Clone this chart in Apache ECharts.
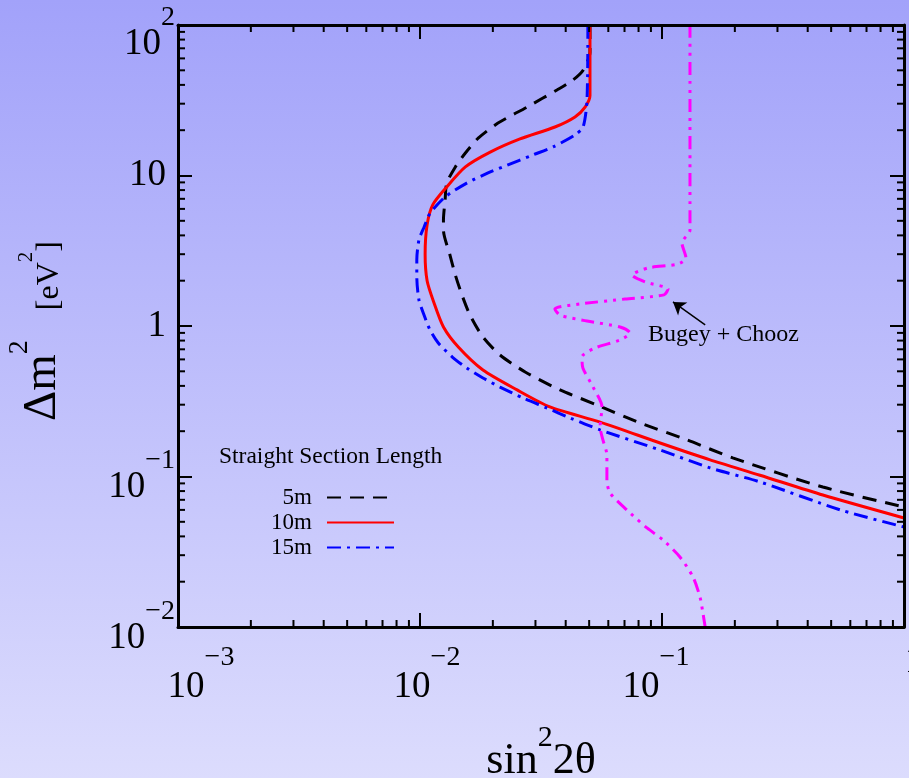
<!DOCTYPE html>
<html>
<head>
<meta charset="utf-8">
<script src="https://cdn.jsdelivr.net/npm/echarts@6/dist/echarts.min.js"></script>
<style>
html, body { margin: 0; padding: 0; }
#chart { width: 909px; height: 778px; }
</style>
</head>
<body>
<div id="chart"></div>
<script>
// axis ranges (log-log)
const xMin = 0.001, xMax = 1;
const yMin = 0.01, yMax = 100;
const minorSteps = [2, 3, 4, 5, 6, 7, 8, 9];
const xDecades = [0.001, 0.01, 0.1];
const yDecades = [0.01, 0.1, 1, 10];

// 5m (black dashed)
const x5m = [0.0504, 0.0504, 0.0472, 0.0428, 0.0368, 0.0277, 0.0210, 0.0174, 0.0154, 0.0140, 0.0129, 0.0127, 0.0125, 0.0125, 0.0133, 0.0140, 0.0149, 0.0161, 0.0182, 0.0214, 0.0272, 0.0379, 0.0538, 0.0811, 0.127, 0.196, 0.462, 1.0];
const y5m = [100, 66, 50, 43, 37, 28.5, 22.3, 17.7, 14.1, 11.4, 8.9, 6.9, 5.06, 4.34, 2.96, 2.18, 1.61, 1.18, 0.845, 0.642, 0.495, 0.376, 0.299, 0.227, 0.175, 0.133, 0.0851, 0.0627];

// 10m (red solid)
const x10m = [0.0504, 0.0504, 0.0481, 0.0437, 0.0361, 0.0259, 0.0195, 0.0154, 0.0129, 0.0113, 0.0107, 0.0105, 0.0107, 0.0114, 0.0125, 0.0144, 0.0182, 0.0252, 0.0344, 0.0555, 0.0982, 0.158, 0.254, 0.462, 1.0];
const y10m = [100, 34, 28.5, 24.5, 21.0, 17.5, 14.3, 11.4, 8.4, 6.4, 4.7, 3.0, 2.0, 1.44, 0.985, 0.725, 0.51, 0.376, 0.29, 0.23, 0.167, 0.129, 0.102, 0.0753, 0.053];

// 15m (blue dash-dot)
const x15m = [0.0494, 0.0490, 0.0472, 0.0437, 0.0355, 0.0293, 0.0229, 0.0191, 0.0156, 0.0127, 0.0110, 0.0104, 0.0099, 0.0097, 0.0097, 0.0099, 0.0104, 0.0110, 0.0119, 0.0136, 0.0156, 0.0182, 0.0214, 0.0267, 0.0335, 0.0417, 0.0555, 0.0982, 0.158, 0.254, 0.545, 1.0];
const y15m = [100, 31.8, 21.0, 18.6, 15.5, 13.7, 11.7, 10.4, 8.9, 7.2, 5.6, 4.55, 3.73, 2.75, 2.12, 1.49, 1.18, 0.941, 0.771, 0.622, 0.526, 0.451, 0.393, 0.332, 0.285, 0.245, 0.204, 0.150, 0.114, 0.092, 0.060, 0.0462];

// Bugey + Chooz (magenta dash-dot-dot)
const xBC = [0.1305, 0.1305, 0.1209, 0.1256, 0.1164, 0.0875, 0.0752, 0.0852, 0.1059, 0.1019, 0.0703, 0.0458, 0.0361, 0.0379, 0.0490, 0.0671, 0.0738, 0.0671, 0.0528, 0.0467, 0.0471, 0.0519, 0.0565, 0.0555, 0.0570, 0.0592, 0.0592, 0.0610, 0.0716, 0.0867, 0.1009, 0.1186, 0.1343, 0.1436, 0.1476, 0.1508];
const yBC = [100, 4.34, 3.56, 2.83, 2.58, 2.43, 2.18, 1.96, 1.76, 1.61, 1.51, 1.40, 1.30, 1.18, 1.08, 0.985, 0.899, 0.807, 0.714, 0.622, 0.526, 0.393, 0.290, 0.213, 0.175, 0.139, 0.0948, 0.0777, 0.0599, 0.0455, 0.0379, 0.0292, 0.0215, 0.0158, 0.0124, 0.01];

// arrow pointing at the Bugey + Chooz curve
const arrowFrom = [0.1508, 1.016];
const arrowTo = [0.111, 1.444];

const serif = 'Liberation Serif';

function pairs(xs, ys) {
  return xs.map(function (x, i) { return [x, ys[i]]; });
}

let xMinor = [];
let yMinor = [];
xDecades.forEach(function (d) {
  minorSteps.forEach(function (m) { xMinor.push([d * m, 1]); });
});
yDecades.forEach(function (d) {
  minorSteps.forEach(function (m) { yMinor.push([0.01, d * m]); });
});

function expNum(e) {
  return e < 0 ? '\u2212' + (-e) : '' + e;
}
// x labels sit a little off-centre in the original
function xLabel(v) {
  let e = Math.round(Math.log10(v));
  if (e === 0) return '{pR|1}';
  if (e === -3) return '{bA|10}{e|' + expNum(e) + '}';
  if (e === -2) return '{bB|10}{e|' + expNum(e) + '}';
  return '{b|10}{eC|' + expNum(e) + '}';
}
function yLabel(v) {
  let e = Math.round(Math.log10(v));
  if (e === 0) return '{p|1}';
  if (e === 1) return '{p|10}';
  if (e === 2) return '{b|10}{eT|' + expNum(e) + '}';
  return '{b|10}{e|' + expNum(e) + '}';
}

function big(pad) {
  return { fontFamily: serif, fontSize: 37, lineHeight: 37, color: '#000', verticalAlign: 'bottom', padding: pad };
}
function sup(pad) {
  return { fontFamily: serif, fontSize: 28, color: '#000', verticalAlign: 'top', padding: pad };
}
const xRich = {
  b: big([0, 0, 0, 0]), bA: big([0, 0, 0, 46]), bB: big([0, 0, 0, 14]),
  e: sup([0, 0, 34, 0]), eC: sup([0, 12, 34, 0]),
  pR: { fontFamily: serif, fontSize: 37, lineHeight: 37, color: '#000', padding: [0, 0, 0, 20] }
};
const yRich = {
  b: big([0, 0, 0, 0]), e: sup([0, 0, 31, 0]), eT: sup([16, 0, 31, 0]),
  p: { fontFamily: serif, fontSize: 37, lineHeight: 37, color: '#000', padding: [0, 9, 0, 0] }
};

function tickAxis(extra) {
  return Object.assign({
    type: 'log',
    logBase: 10,
    axisLine: { onZero: false, lineStyle: { color: '#000', width: 3 } },
    axisTick: { inside: true, length: 14, lineStyle: { color: '#000', width: 2 } },
    splitLine: { show: false },
    z: 5
  }, extra);
}

// minor ticks, drawn through the axis scales
function minorX(params, api) {
  let b = api.coord([api.value(0), yMin]);
  let t = api.coord([api.value(0), yMax]);
  return { type: 'group', children: [
    { type: 'line', shape: { x1: b[0], y1: b[1], x2: b[0], y2: b[1] - 7 }, style: { stroke: '#000', lineWidth: 2 } },
    { type: 'line', shape: { x1: t[0], y1: t[1], x2: t[0], y2: t[1] + 7 }, style: { stroke: '#000', lineWidth: 2 } }
  ] };
}
function minorY(params, api) {
  let l = api.coord([xMin, api.value(1)]);
  let r = api.coord([xMax, api.value(1)]);
  return { type: 'group', children: [
    { type: 'line', shape: { x1: l[0], y1: l[1], x2: l[0] + 7, y2: l[1] }, style: { stroke: '#000', lineWidth: 2 } },
    { type: 'line', shape: { x1: r[0], y1: r[1], x2: r[0] - 7, y2: r[1] }, style: { stroke: '#000', lineWidth: 2 } }
  ] };
}

let myChart = echarts.init(document.getElementById('chart'));
let option = {
  animation: false,
  backgroundColor: {
    type: 'linear', x: 0, y: 0, x2: 0, y2: 1,
    colorStops: [{ offset: 0, color: '#a2a2fa' }, { offset: 1, color: '#dcdcfd' }]
  },
  grid: { left: 178, right: 5, top: 25, bottom: 151, outerBoundsMode: 'none', containLabel: false },
  legend: {
    data: ['5m', '10m', '15m'],
    orient: 'vertical',
    align: 'right',
    right: 514,
    top: 486,
    padding: 0,
    itemGap: 2,
    itemWidth: 67,
    itemHeight: 14,
    itemStyle: { opacity: 0 },
    textStyle: { fontFamily: serif, fontSize: 23, lineHeight: 22, color: '#000', padding: [0, 10, 0, 0] }
  },
  graphic: [
    { type: 'text', left: 219, top: 445, style: { text: 'Straight Section Length', font: '23.5px "Liberation Serif"', fill: '#000' } },
    { type: 'text', left: 648, top: 323, style: { text: 'Bugey + Chooz', font: '24px "Liberation Serif"', fill: '#000' } }
  ],
  xAxis: [
    tickAxis({
      min: xMin, max: xMax, position: 'bottom',
      axisLabel: { formatter: xLabel, rich: xRich, margin: 17 },
      name: '{s|sin}{e|2}{s|2\u03b8}',
      nameLocation: 'middle',
      nameGap: 96,
      nameTextStyle: {
        rich: {
          s: { fontFamily: serif, fontSize: 44, lineHeight: 44, color: '#000', verticalAlign: 'bottom' },
          e: { fontFamily: serif, fontSize: 30, color: '#000', verticalAlign: 'top', padding: [0, 0, 30, 0] }
        }
      }
    }),
    tickAxis({ min: xMin, max: xMax, position: 'top', axisLabel: { show: false } })
  ],
  yAxis: [
    tickAxis({
      min: yMin, max: yMax, position: 'left',
      axisLabel: { formatter: yLabel, rich: yRich, margin: 3 },
      name: '{a|\u0394m}{e|2}{g| }{u|[eV}{f|2}{u|]}{t| }',
      nameLocation: 'middle',
      nameRotate: 90,
      nameGap: 112,
      nameTextStyle: {
        rich: {
          a: { fontFamily: serif, fontSize: 47, lineHeight: 47, color: '#000', verticalAlign: 'bottom' },
          e: { fontFamily: serif, fontSize: 28, color: '#000', verticalAlign: 'top', padding: [0, 0, 32, 0] },
          g: { fontFamily: serif, fontSize: 20, width: 30 },
          u: { fontFamily: serif, fontSize: 32, lineHeight: 32, color: '#000', verticalAlign: 'bottom' },
          f: { fontFamily: serif, fontSize: 21, color: '#000', verticalAlign: 'top', padding: [10, 0, 0, 0] },
          t: { fontFamily: serif, fontSize: 20, width: 10 }
        }
      }
    }),
    tickAxis({ min: yMin, max: yMax, position: 'right', axisLabel: { show: false } })
  ],
  series: [
    {
      name: '5m', type: 'line', data: pairs(x5m, y5m), symbol: 'none', smooth: 0.25,
      lineStyle: { color: '#000', width: 3, type: [14, 9] }, itemStyle: { color: '#000' }
    },
    {
      name: '10m', type: 'line', data: pairs(x10m, y10m), symbol: 'none', smooth: 0.25,
      lineStyle: { color: '#ff0000', width: 3 }, itemStyle: { color: '#ff0000' }
    },
    {
      name: '15m', type: 'line', data: pairs(x15m, y15m), symbol: 'none', smooth: 0.25,
      lineStyle: { color: '#0000ff', width: 3, type: [14, 6, 3, 6] }, itemStyle: { color: '#0000ff' }
    },
    {
      name: 'Bugey + Chooz', type: 'line', data: pairs(xBC, yBC), symbol: 'none', smooth: 0.25,
      lineStyle: { color: '#ff00ff', width: 3, type: [13, 6, 3, 6, 3, 6] }, itemStyle: { color: '#ff00ff' },
      markLine: {
        silent: true, symbol: ['none', 'arrow'], symbolSize: 12, label: { show: false },
        lineStyle: { color: '#000', width: 1.5, type: 'solid' },
        data: [[{ coord: arrowFrom }, { coord: arrowTo }]]
      }
    },
    { type: 'custom', renderItem: minorX, data: xMinor, silent: true, z: 5 },
    { type: 'custom', renderItem: minorY, data: yMinor, silent: true, z: 5 }
  ]
};
myChart.setOption(option);
</script>
</body>
</html>
